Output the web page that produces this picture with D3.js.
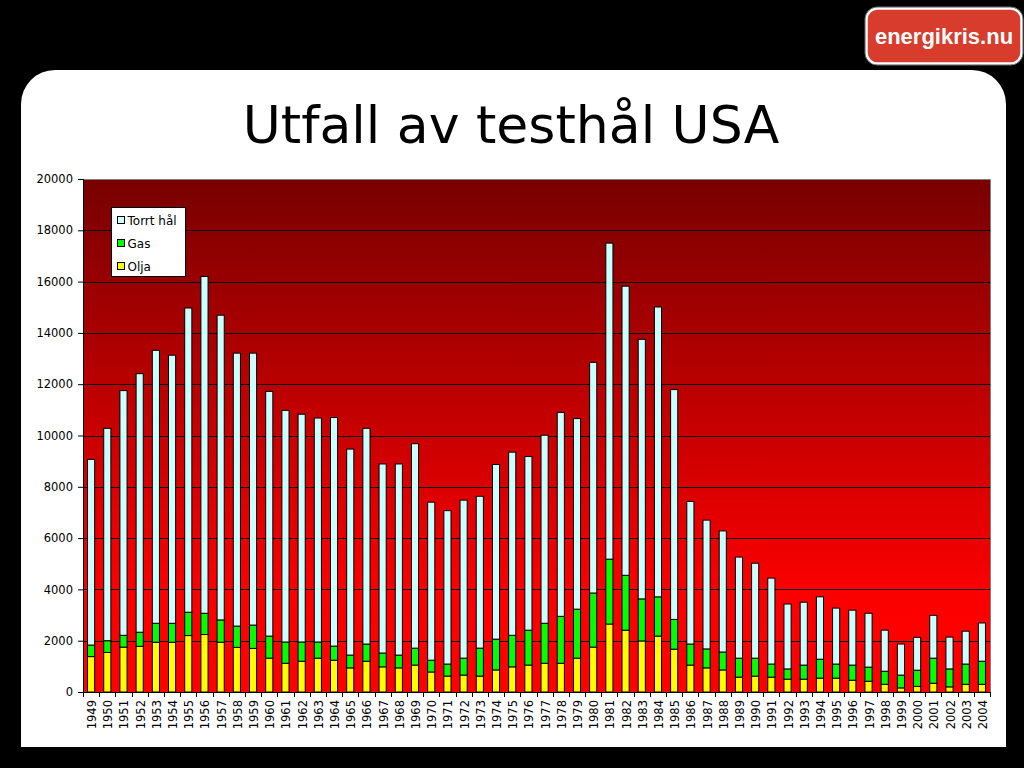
<!DOCTYPE html>
<html>
<head>
<meta charset="utf-8">
<script src="https://cdn.jsdelivr.net/npm/d3@7"></script>
<style>
  body { margin: 0; background: #000; }
  svg { display: block; }
</style>
</head>
<body>
<div id="chart"></div>
<script>
// data
const years = ["1949","1950","1951","1952","1953","1954","1955","1956","1957","1958",
  "1959","1960","1961","1962","1963","1964","1965","1966","1967","1968",
  "1969","1970","1971","1972","1973","1974","1975","1976","1977","1978",
  "1979","1980","1981","1982","1983","1984","1985","1986","1987","1988",
  "1989","1990","1991","1992","1993","1994","1995","1996","1997","1998",
  "1999","2000","2001","2002","2003","2004"];

const olja = [1380,1540,1750,1780,1940,1940,2200,2240,1940,1740,
  1700,1320,1120,1200,1320,1240,940,1200,980,940,
  1050,780,620,660,620,860,980,1050,1120,1120,
  1320,1750,2650,2410,1990,2180,1670,1050,940,860,
  580,620,580,500,500,540,540,460,420,300,
  160,220,340,200,300,300];

const gas = [450,460,460,550,740,740,910,830,870,830,
  910,860,830,750,630,550,500,670,540,500,
  660,460,470,660,1090,1200,1230,1360,1560,1830,
  1910,2110,2530,2140,1640,1530,1160,820,740,700,
  740,700,510,400,550,740,550,590,550,510,
  500,630,980,700,790,900];

const torrt = [7240,8280,9540,10080,10640,10450,11860,13130,11880,10640,
  10600,9540,9030,8880,8730,8910,8030,8410,7370,7450,
  7970,6160,5980,6160,5920,6810,7140,6770,7330,7950,
  7430,8990,12320,11270,10120,11300,8960,5560,5020,4720,
  3940,3700,3350,2530,2450,2430,2180,2140,2100,1600,
  1210,1280,1670,1240,1280,1490];

const yTicks = [0,2000,4000,6000,8000,10000,12000,14000,16000,18000,20000];

const seriesKeys = ["olja", "gas", "torrt"];
const seriesNames = {olja: "Olja", gas: "Gas", torrt: "Torrt hål"};
const seriesColors = {olja: "#ffff00", gas: "#00ff00", torrt: "#ccffff"};

const rows = years.map((yr, i) => ({year: yr, olja: olja[i], gas: gas[i], torrt: torrt[i]}));

const W = 1024, H = 768;
const plot = {left: 83, right: 990, top: 179, bottom: 692};

const svg = d3.select("#chart").append("svg").attr("width", W).attr("height", H);

svg.append("rect").attr("width", W).attr("height", H).attr("fill", "#000");

// white slide panel
svg.append("rect")
    .attr("x", 21).attr("y", 70)
    .attr("width", 985).attr("height", 720)
    .attr("rx", 34).attr("ry", 34)
    .attr("fill", "#fff");
svg.append("rect").attr("x", 0).attr("y", 747).attr("width", W).attr("height", 21).attr("fill", "#000");

// logo
const logo = svg.append("g");
logo.append("rect")
    .attr("x", 866.5).attr("y", 8.5).attr("width", 155).attr("height", 55)
    .attr("rx", 11).attr("fill", "#d83c2c")
    .attr("stroke", "#fff").attr("stroke-width", 2.5);
logo.append("rect")
    .attr("x", 865).attr("y", 7).attr("width", 158).attr("height", 58)
    .attr("rx", 12).attr("fill", "none")
    .attr("stroke", "#888").attr("stroke-width", 0.8);
logo.append("text")
    .attr("x", 944).attr("y", 44)
    .attr("text-anchor", "middle")
    .attr("font-family", "Liberation Sans, Arial, sans-serif")
    .attr("font-weight", "bold")
    .attr("font-size", 22)
    .attr("fill", "#fff")
    .text("energikris.nu");

// title
svg.append("text")
    .attr("x", 511).attr("y", 143)
    .attr("text-anchor", "middle")
    .attr("font-family", "DejaVu Sans, Verdana, sans-serif")
    .attr("font-size", 52)
    .attr("fill", "#000")
    .text("Utfall av testhål USA");

// gradient for plot area
const defs = svg.append("defs");
const grad = defs.append("linearGradient").attr("id", "bg").attr("x1", 0).attr("y1", 0).attr("x2", 0).attr("y2", 1);
grad.append("stop").attr("offset", "0%").attr("stop-color", "#780000");
grad.append("stop").attr("offset", "80%").attr("stop-color", "#fb0000");
grad.append("stop").attr("offset", "100%").attr("stop-color", "#ff0000");

const x = d3.scaleBand()
    .domain(years)
    .range([plot.left, plot.right])
    .paddingInner(0.56)
    .paddingOuter(0.28);

const y = d3.scaleLinear()
    .domain([0, 20000])
    .range([plot.bottom, plot.top]);

svg.append("rect")
    .attr("x", plot.left).attr("y", plot.top)
    .attr("width", plot.right - plot.left).attr("height", plot.bottom - plot.top)
    .attr("fill", "url(#bg)");

// gridlines
svg.append("g")
    .selectAll("line")
    .data(yTicks.filter(d => d > 0 && d < 20000))
    .join("line")
    .attr("x1", plot.left).attr("x2", plot.right)
    .attr("y1", d => Math.round(y(d)) + 0.5).attr("y2", d => Math.round(y(d)) + 0.5)
    .attr("stroke", "#000").attr("stroke-width", 1);

// plot border (top/right grey)
svg.append("path")
    .attr("d", `M${plot.left},${plot.top + 0.5}H${plot.right + 0.5}V${plot.bottom}`)
    .attr("fill", "none").attr("stroke", "#808080");

// stacked bars
const stack = d3.stack().keys(seriesKeys);
const series = stack(rows);

svg.append("g")
    .selectAll("g")
    .data(series)
    .join("g")
    .attr("fill", d => seriesColors[d.key])
    .selectAll("rect")
    .data(d => d)
    .join("rect")
    .attr("x", d => x(d.data.year))
    .attr("y", d => y(d[1]))
    .attr("width", x.bandwidth())
    .attr("height", d => y(d[0]) - y(d[1]))
    .attr("stroke", "#000")
    .attr("stroke-width", 1);

// y axis
const yAxis = d3.axisLeft(y).tickValues(yTicks).tickSize(5).tickPadding(5).tickFormat(d3.format("d"));
const gy = svg.append("g").attr("transform", `translate(${plot.left},0)`).call(yAxis);
gy.select(".domain").attr("stroke", "#000");
gy.selectAll("text").attr("font-family", "DejaVu Sans, Verdana, sans-serif").attr("font-size", 11.5).attr("fill", "#000");

// x axis: ticks between bars, labels rotated
const gx = svg.append("g").attr("transform", `translate(0,${plot.bottom})`);
gx.append("line").attr("x1", plot.left).attr("x2", plot.right).attr("y1", 0.5).attr("y2", 0.5).attr("stroke", "#000");
const step = x.step();
gx.selectAll("line.tick")
    .data(years.concat(["end"]))
    .join("line")
    .attr("class", "tick")
    .attr("x1", (d, i) => Math.round(plot.left + (plot.right - plot.left) * i / years.length) + 0.5)
    .attr("x2", (d, i) => Math.round(plot.left + (plot.right - plot.left) * i / years.length) + 0.5)
    .attr("y1", 0).attr("y2", 5)
    .attr("stroke", "#000");
gx.selectAll("text")
    .data(years)
    .join("text")
    .attr("transform", d => `translate(${x(d) + x.bandwidth() / 2 + 5},${8}) rotate(-90)`)
    .attr("text-anchor", "end")
    .attr("font-family", "DejaVu Sans, Verdana, sans-serif")
    .attr("font-size", 11.5)
    .attr("fill", "#000")
    .text(d => d);

// legend
const legend = svg.append("g").attr("transform", "translate(111.5,207.5)");
legend.append("rect").attr("width", 74).attr("height", 69).attr("fill", "#fff").attr("stroke", "#000");
const legendOrder = ["torrt", "gas", "olja"];
const li = legend.selectAll("g.item")
    .data(legendOrder)
    .join("g")
    .attr("class", "item")
    .attr("transform", (d, i) => `translate(6,${13 + i * 23})`);
li.append("rect")
    .attr("x", 0).attr("y", -4).attr("width", 7).attr("height", 7)
    .attr("fill", d => seriesColors[d]).attr("stroke", "#000");
li.append("text")
    .attr("x", 10).attr("y", 4.5)
    .attr("font-family", "DejaVu Sans, Verdana, sans-serif")
    .attr("font-size", 12)
    .attr("fill", "#000")
    .text(d => seriesNames[d]);
</script>
</body>
</html>
